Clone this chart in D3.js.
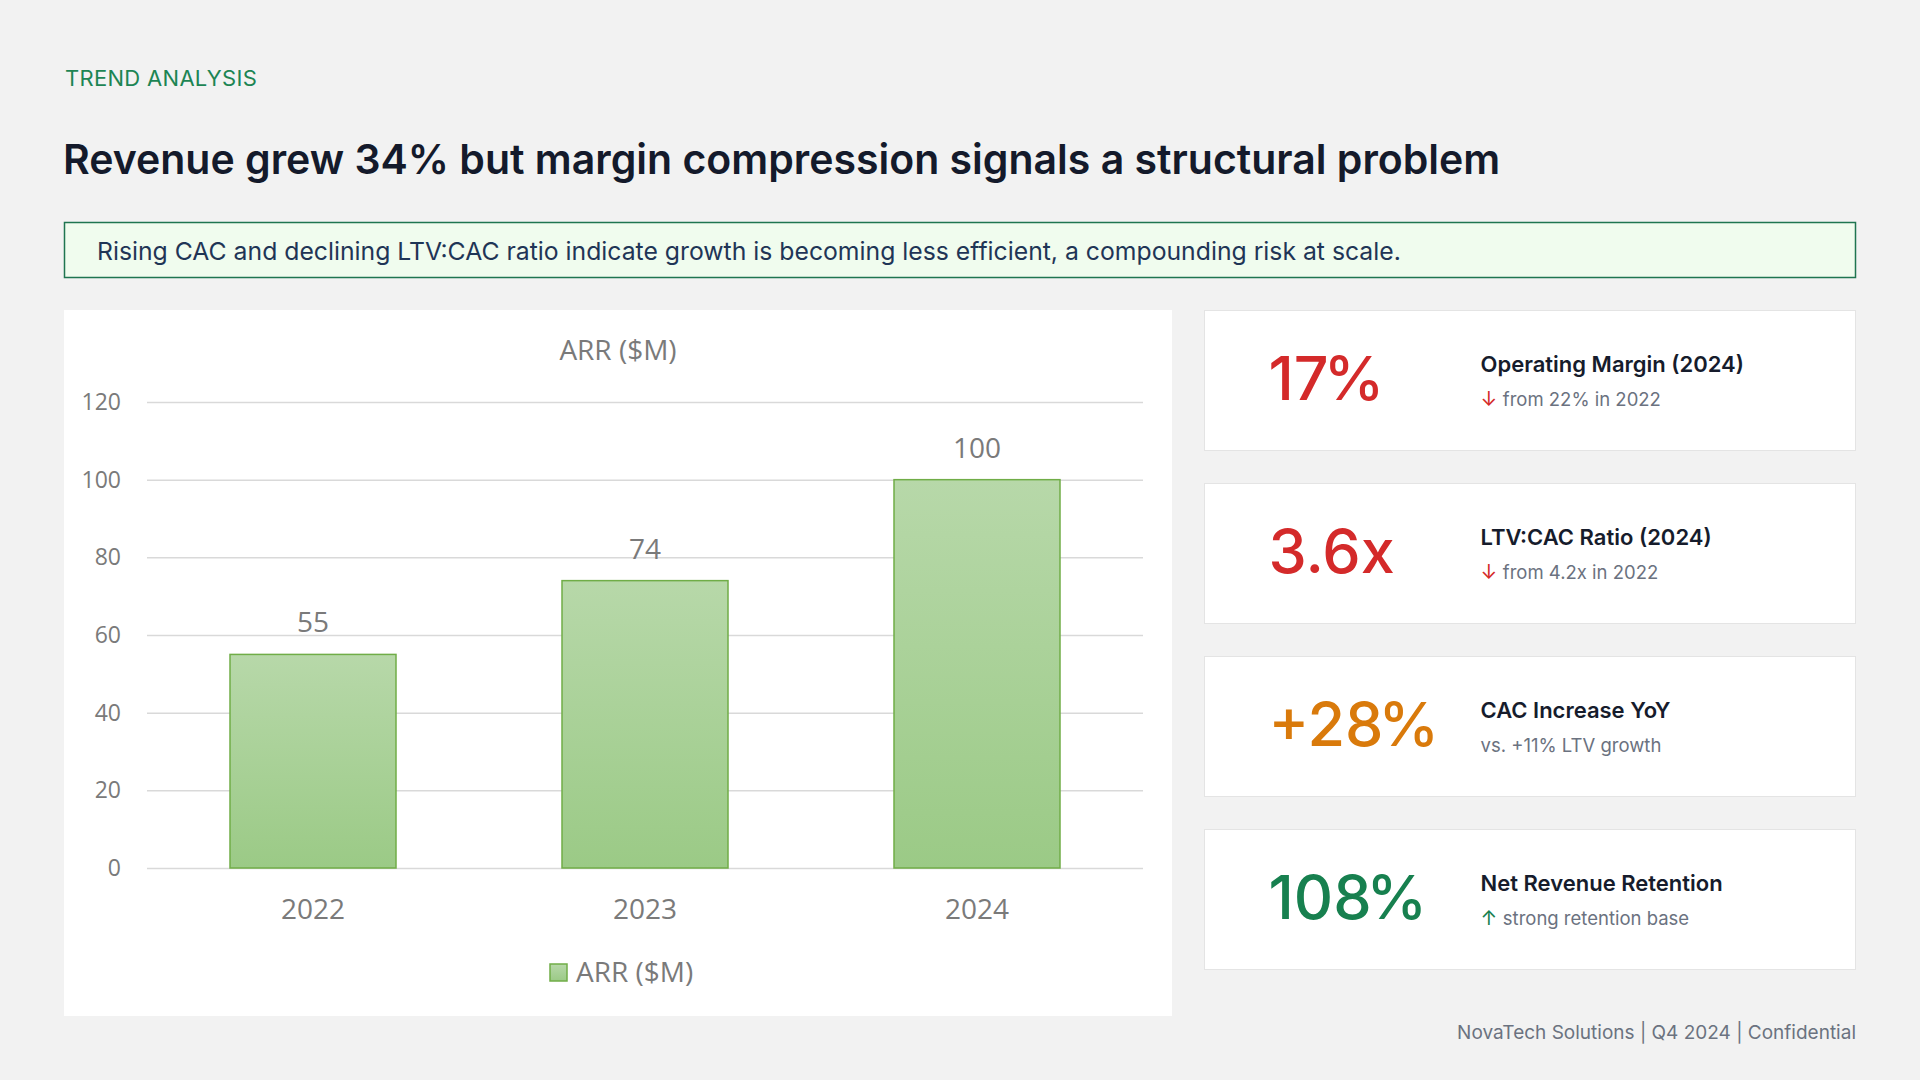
<!DOCTYPE html>
<html>
<head>
<meta charset="utf-8">
<script src="https://cdn.jsdelivr.net/npm/d3@7"></script>
<style>
  html, body { margin: 0; padding: 0; background: #f2f2f2; }
  svg { display: block; }
</style>
</head>
<body>
<div id="wrapper"></div>
<script>
// data
const years = ["2022", "2023", "2024"]
const arrValues = [55, 74, 100]
const yTicks = [0, 20, 40, 60, 80, 100, 120]
const seriesName = "ARR ($M)"

const kpiValues = ["17", "3.6x", "+28", "108"]
const kpiSuffix = ["%", "", "%", "%"]
const kpiLabels = ["Operating Margin (2024)", "LTV:CAC Ratio (2024)", "CAC Increase YoY", "Net Revenue Retention"]
const kpiArrows = ["↓", "↓", "", "↑"]
const kpiNotes = ["from 22% in 2022", "from 4.2x in 2022", "vs. +11% LTV growth", "strong retention base"]

const eyebrow = "TREND ANALYSIS"
const headline = "Revenue grew 34% but margin compression signals a structural problem"
const takeaway = "Rising CAC and declining LTV:CAC ratio indicate growth is becoming less efficient, a compounding risk at scale."
const footer = "NovaTech Solutions | Q4 2024 | Confidential"

// styles
const kpiColors = ["#d42a2a", "#d42a2a", "#d97a0b", "#17804f"]
const uiFont = "Inter, 'Noto Sans', sans-serif"
const chartFont = "'Open Sans', 'Liberation Sans', sans-serif"
const chartText = "#7a7a7a"

function draw() {
  const width = 1920
  const height = 1080

  const svg = d3.select("#wrapper")
    .append("svg")
      .attr("width", width)
      .attr("height", height)
      .style("background", "#f2f2f2")

  // header
  svg.append("text")
    .attr("x", 65)
    .attr("y", 86)
    .text(eyebrow)
    .style("font-family", uiFont)
    .style("font-size", "22px")
    .style("letter-spacing", "0.3px")
    .style("fill", "#1d8554")

  svg.append("text")
    .attr("x", 63)
    .attr("y", 174)
    .text(headline)
    .style("font-family", uiFont)
    .style("font-size", "41px")
    .style("font-weight", 600)
    .style("fill", "#141a2b")

  svg.append("rect")
    .attr("x", 64.5)
    .attr("y", 222.5)
    .attr("width", 1791)
    .attr("height", 55)
    .attr("fill", "#f0fcee")
    .attr("stroke", "#1f7550")
    .attr("stroke-width", 1.5)

  svg.append("text")
    .attr("x", 97)
    .attr("y", 260)
    .text(takeaway)
    .style("font-family", uiFont)
    .style("font-size", "24.75px")
    .style("fill", "#1f3556")

  // chart panel
  const panel = { x: 64, y: 310, w: 1108, h: 706 }
  svg.append("rect")
    .attr("x", panel.x)
    .attr("y", panel.y)
    .attr("width", panel.w)
    .attr("height", panel.h)
    .attr("fill", "#ffffff")

  const xScale = d3.scaleBand()
    .domain(years)
    .range([147, 1143])
    .paddingInner(0.5)
    .paddingOuter(0.25)

  const yScale = d3.scaleLinear()
    .domain([0, 120])
    .range([868, 402])

  const defs = svg.append("defs")
  const grad = defs.append("linearGradient")
    .attr("id", "barFill")
    .attr("x1", 0).attr("y1", 0)
    .attr("x2", 0).attr("y2", 1)
  grad.append("stop").attr("offset", "0%").attr("stop-color", "#b7d8a9")
  grad.append("stop").attr("offset", "100%").attr("stop-color", "#9bca86")

  // gridlines + y labels
  const yAxis = d3.axisLeft(yScale)
    .tickValues(yTicks)
    .tickSize(-(1143 - 147))
    .tickPadding(26)

  svg.append("g")
    .attr("transform", "translate(147,0)")
    .call(yAxis)
    .call(g => g.select(".domain").remove())
    .call(g => g.selectAll(".tick line")
      .attr("stroke", "#d9d9d9")
      .attr("stroke-width", 1.5))
    .call(g => g.selectAll(".tick text")
      .style("font-family", chartFont)
      .style("font-size", "23px")
      .style("fill", chartText))

  // bars
  svg.append("g")
    .selectAll("rect")
    .data(arrValues)
    .join("rect")
      .attr("x", (d, i) => xScale(years[i]))
      .attr("y", d => yScale(d))
      .attr("width", xScale.bandwidth())
      .attr("height", d => yScale(0) - yScale(d))
      .attr("fill", "url(#barFill)")
      .attr("stroke", "#70ad47")
      .attr("stroke-width", 1.5)

  // data labels
  svg.append("g")
    .selectAll("text")
    .data(arrValues)
    .join("text")
      .attr("x", (d, i) => xScale(years[i]) + xScale.bandwidth() / 2)
      .attr("y", d => yScale(d) - 22)
      .attr("text-anchor", "middle")
      .text(d => d)
      .style("font-family", chartFont)
      .style("font-size", "28px")
      .style("fill", chartText)

  // x labels
  const xAxis = d3.axisBottom(xScale)
    .tickSize(0)
    .tickPadding(0)
  svg.append("g")
    .attr("transform", "translate(0,868)")
    .call(xAxis)
    .call(g => g.select(".domain").remove())
    .call(g => g.selectAll(".tick text")
      .attr("dy", null)
      .attr("y", 51)
      .style("font-family", chartFont)
      .style("font-size", "28px")
      .style("fill", chartText))

  // chart title
  svg.append("text")
    .attr("x", 618)
    .attr("y", 360)
    .attr("text-anchor", "middle")
    .text(seriesName)
    .style("font-family", chartFont)
    .style("font-size", "28px")
    .style("fill", chartText)

  // legend
  svg.append("rect")
    .attr("x", 550)
    .attr("y", 964)
    .attr("width", 17)
    .attr("height", 17)
    .attr("fill", "url(#barFill)")
    .attr("stroke", "#70ad47")
    .attr("stroke-width", 1.5)
  svg.append("text")
    .attr("x", 576)
    .attr("y", 982)
    .text(seriesName)
    .style("font-family", chartFont)
    .style("font-size", "28px")
    .style("fill", chartText)

  // KPI cards
  const cardX = 1204.5
  const cards = svg.append("g")
    .selectAll("g")
    .data(kpiValues)
    .join("g")
      .attr("transform", (d, i) => `translate(${cardX},${310.5 + i * 173})`)

  cards.append("rect")
    .attr("width", 651)
    .attr("height", 140)
    .attr("fill", "#ffffff")
    .attr("stroke", "#e4e4e4")
    .attr("stroke-width", 1)

  const big = cards.append("text")
    .attr("x", 64)
    .attr("y", 89)
    .style("font-family", uiFont)
    .style("font-size", "61px")
    .style("font-weight", 500)
    .style("fill", (d, i) => kpiColors[i])
  big.append("tspan")
    .text(d => d)
  big.append("tspan")
    .attr("dx", (d, i) => kpiSuffix[i] ? -5 : 0)
    .text((d, i) => kpiSuffix[i])

  cards.append("text")
    .attr("x", 276)
    .attr("y", 61)
    .text((d, i) => kpiLabels[i])
    .style("font-family", uiFont)
    .style("font-size", "22px")
    .style("font-weight", 600)
    .style("fill", "#161c2c")

  const notes = cards.append("text")
    .attr("x", 276)
    .attr("y", 95)
    .style("font-family", uiFont)
    .style("font-size", "18.5px")
    .style("fill", "#6b7280")
  notes.append("tspan")
    .text((d, i) => kpiArrows[i] ? kpiArrows[i] + " " : "")
    .style("fill", (d, i) => kpiColors[i])
    .style("font-size", "20px")
  notes.append("tspan")
    .text((d, i) => kpiNotes[i])

  // footer
  svg.append("text")
    .attr("x", 1856)
    .attr("y", 1039)
    .attr("text-anchor", "end")
    .text(footer)
    .style("font-family", uiFont)
    .style("font-size", "19px")
    .style("fill", "#6b7280")
}

draw()
</script>
</body>
</html>
